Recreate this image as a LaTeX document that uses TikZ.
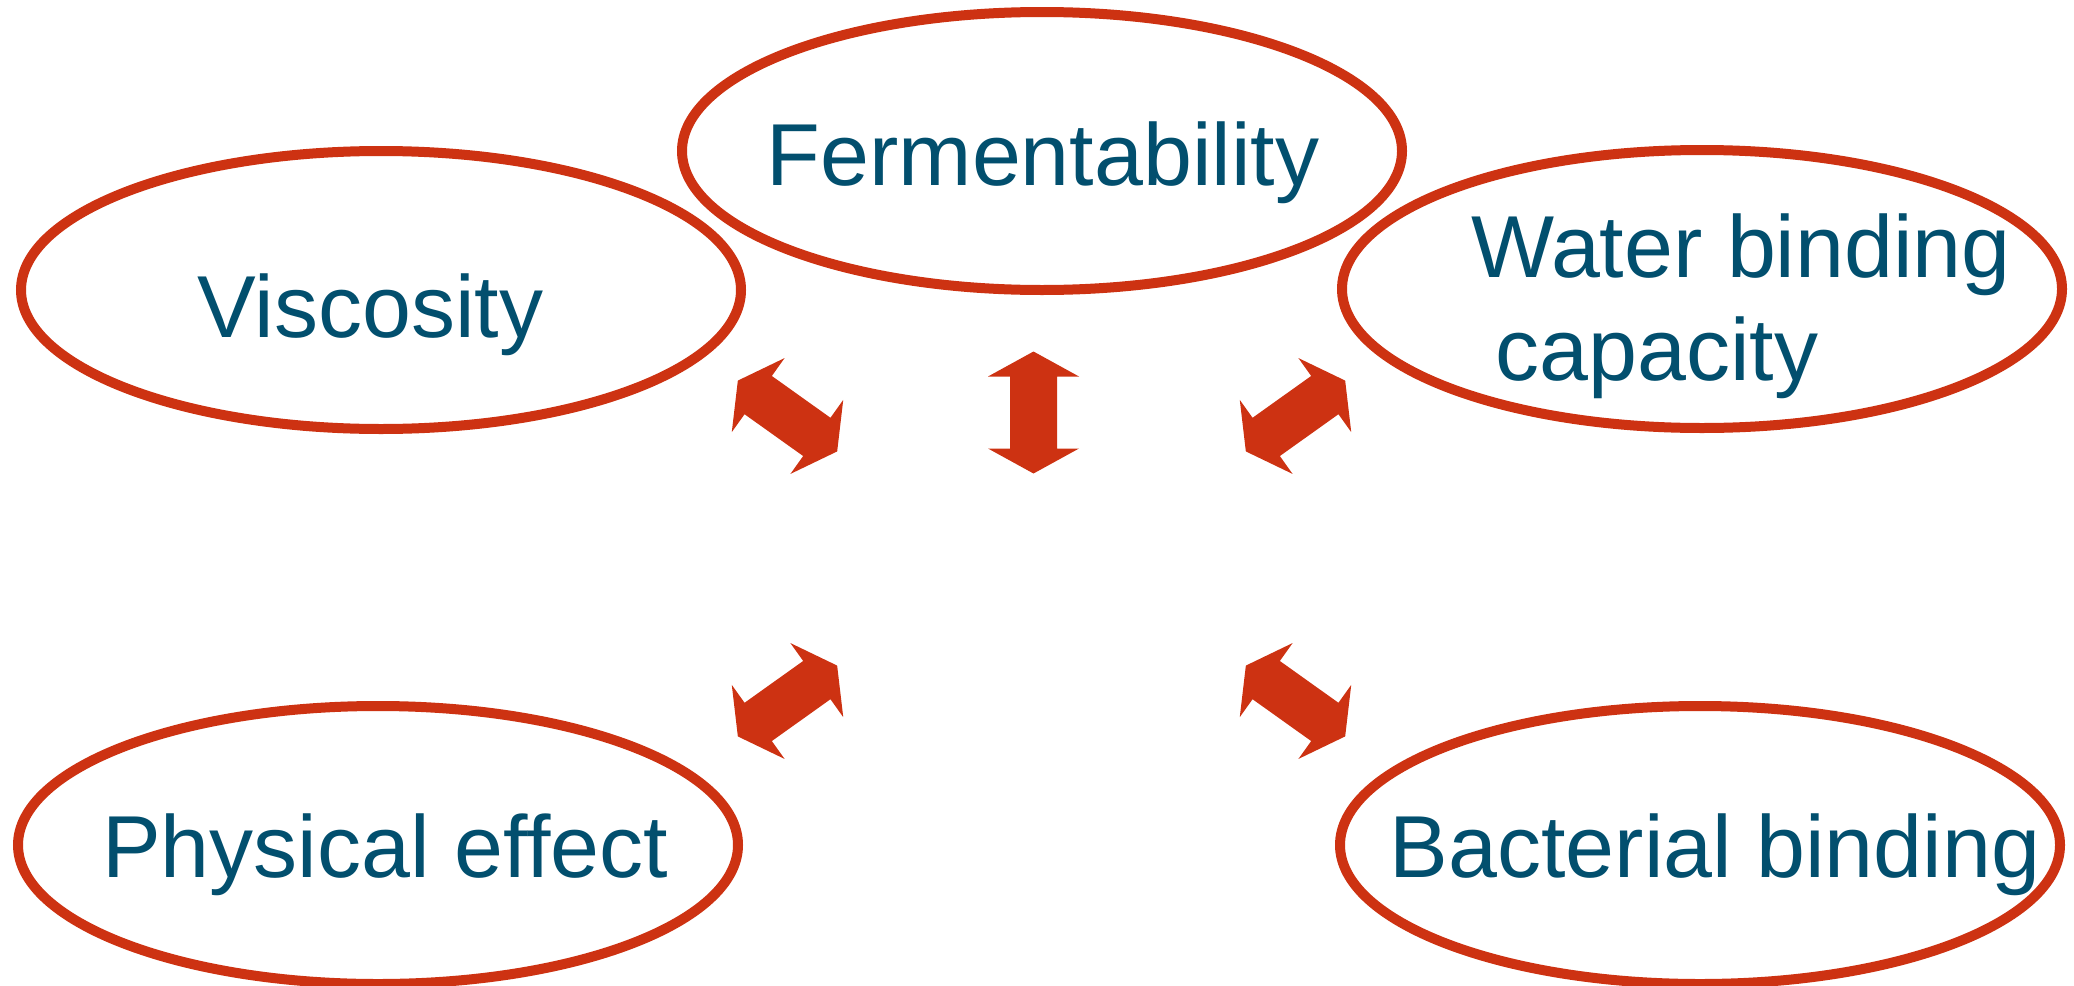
\documentclass[tikz,border=0pt]{standalone}
\usepackage{fontspec}
\setmainfont{Liberation Sans}
\usetikzlibrary{shapes.geometric}
\definecolor{ringred}{RGB}{205,50,18}
\definecolor{labelblue}{RGB}{2,79,110}
\tikzset{
  ring/.style={ellipse, draw=ringred, line width=10pt, fill=white,
    minimum width=720pt, minimum height=278pt, inner sep=0pt},
  lbl/.style={text=labelblue, font=\fontsize{88}{103}\selectfont,
    inner sep=0pt, anchor=base},
  pics/dblarrow/.style={code={
    \fill[ringred] (-61,0) -- (-36,45.5) -- (-36,23.5) -- (36,23.5)
      -- (36,45.5) -- (61,0) -- (36,-45.5) -- (36,-23.5)
      -- (-36,-23.5) -- (-36,-45.5) -- cycle;}}
}
\begin{document}
\begin{tikzpicture}[x=1pt,y=-1pt]
\useasboundingbox (0,0) rectangle (2074,985);

% property rings
\node[ring] (visc)  at (381,290)  {};
\node[ring] (ferm)  at (1042,151) {};
\node[ring] (water) at (1702,289) {};
\node[ring] (phys)  at (378,845)  {};
\node[ring] (bact)  at (1700,845) {};

% labels
\node[lbl] (tvisc) at (370.5,337) {Viscosity};
\node[lbl] (tferm) at (1043,185) {Fermentability};
\node[lbl, anchor=base west] (twater1) at (1471,277) {Water binding};
\node[lbl, anchor=base west] (twater2) at (1495,380) {capacity};
\node[lbl] (tphys) at (385,877) {Physical effect};
\node[lbl] (tbact) at (1715,877) {Bacterial binding};

% double-headed block arrows around the centre
\pic (aul) [rotate=-35.5] at (787.5,416) {dblarrow};
\pic (aup) [rotate=90]    at (1033.5,412.5) {dblarrow};
\pic (aur) [rotate=35.5]  at (1295.5,416) {dblarrow};
\pic (all) [rotate=35.5]  at (787.5,701) {dblarrow};
\pic (alr) [rotate=-35.5] at (1295.5,701) {dblarrow};
\end{tikzpicture}
\end{document}
